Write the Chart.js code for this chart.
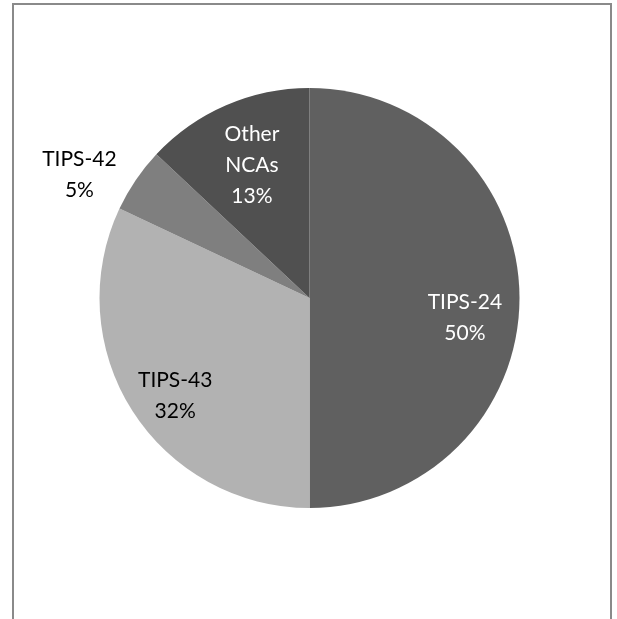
<!DOCTYPE html>
<html>
<head>
<meta charset="utf-8">
<script src="https://cdn.jsdelivr.net/npm/chart.js@4"></script>
<style>
  body { margin: 0; background: #fff; }
  #wrap { position: relative; width: 617px; height: 619px; overflow: hidden; }
  #ram { position: absolute; left: 12px; top: 3px; width: 596px; height: 700px; border: 2px solid #8a8a8a; }
  canvas { position: absolute; left: 0; top: 0; }
</style>
</head>
<body>
<div id="wrap">
  <div id="ram"></div>
  <canvas id="graf" width="617" height="619"></canvas>
</div>
<script>
// data
var kategorie = [["TIPS-24"], ["TIPS-43"], ["TIPS-42"], ["Other", "NCAs"]];
var hodnoty = [50, 32, 5, 13];
var barvy = ["#606060", "#b2b2b2", "#7f7f7f", "#505050"];
var barvyTextu = ["#ffffff", "#000000", "#000000", "#ffffff"];
// jak daleko od středu je popisek (násobek poloměru) + posun v px
var vzdalenost = [0.74, 0.78, 1.25, 0.69];
var posun = [[0, 20], [4, 10], [-13, 24], [0, 0]];

// popisky
var popisky = {
  id: "popisky",
  afterDatasetsDraw: function (chart) {
    var ctx = chart.ctx;
    var meta = chart.getDatasetMeta(0);
    var soucet = hodnoty.reduce(function (a, b) { return a + b; }, 0);
    ctx.save();
    ctx.font = "21px Lato";
    ctx.textAlign = "center";
    ctx.textBaseline = "middle";
    meta.data.forEach(function (arc, i) {
      var uhel = (arc.startAngle + arc.endAngle) / 2;
      var r = arc.outerRadius * vzdalenost[i];
      var x = arc.x + Math.cos(uhel) * r + posun[i][0];
      var y = arc.y + Math.sin(uhel) * r + posun[i][1];
      var radky = kategorie[i].concat([Math.round(hodnoty[i] / soucet * 100) + "%"]);
      var h = 31;
      var y0 = y - (radky.length - 1) * h / 2;
      ctx.fillStyle = barvyTextu[i];
      radky.forEach(function (t, j) {
        ctx.fillText(t, x, y0 + j * h);
      });
    });
    ctx.restore();
  }
};

let graf = document.getElementById("graf").getContext("2d");
let SF = new Chart(graf, {
  type: "pie",
  data: {
    labels: kategorie.map(function (k) { return k.join(" "); }),
    datasets: [
      {
        data: hodnoty,
        backgroundColor: barvy,
        borderWidth: 0
      }
    ]
  },
  options: {
    responsive: false,
    animation: false,
    layout: { padding: { left: 99.5, right: 97.5, top: 88, bottom: 111 } },
    plugins: {
      legend: { display: false },
      tooltip: { enabled: false }
    }
  },
  plugins: [popisky]
});
</script>
</body>
</html>
